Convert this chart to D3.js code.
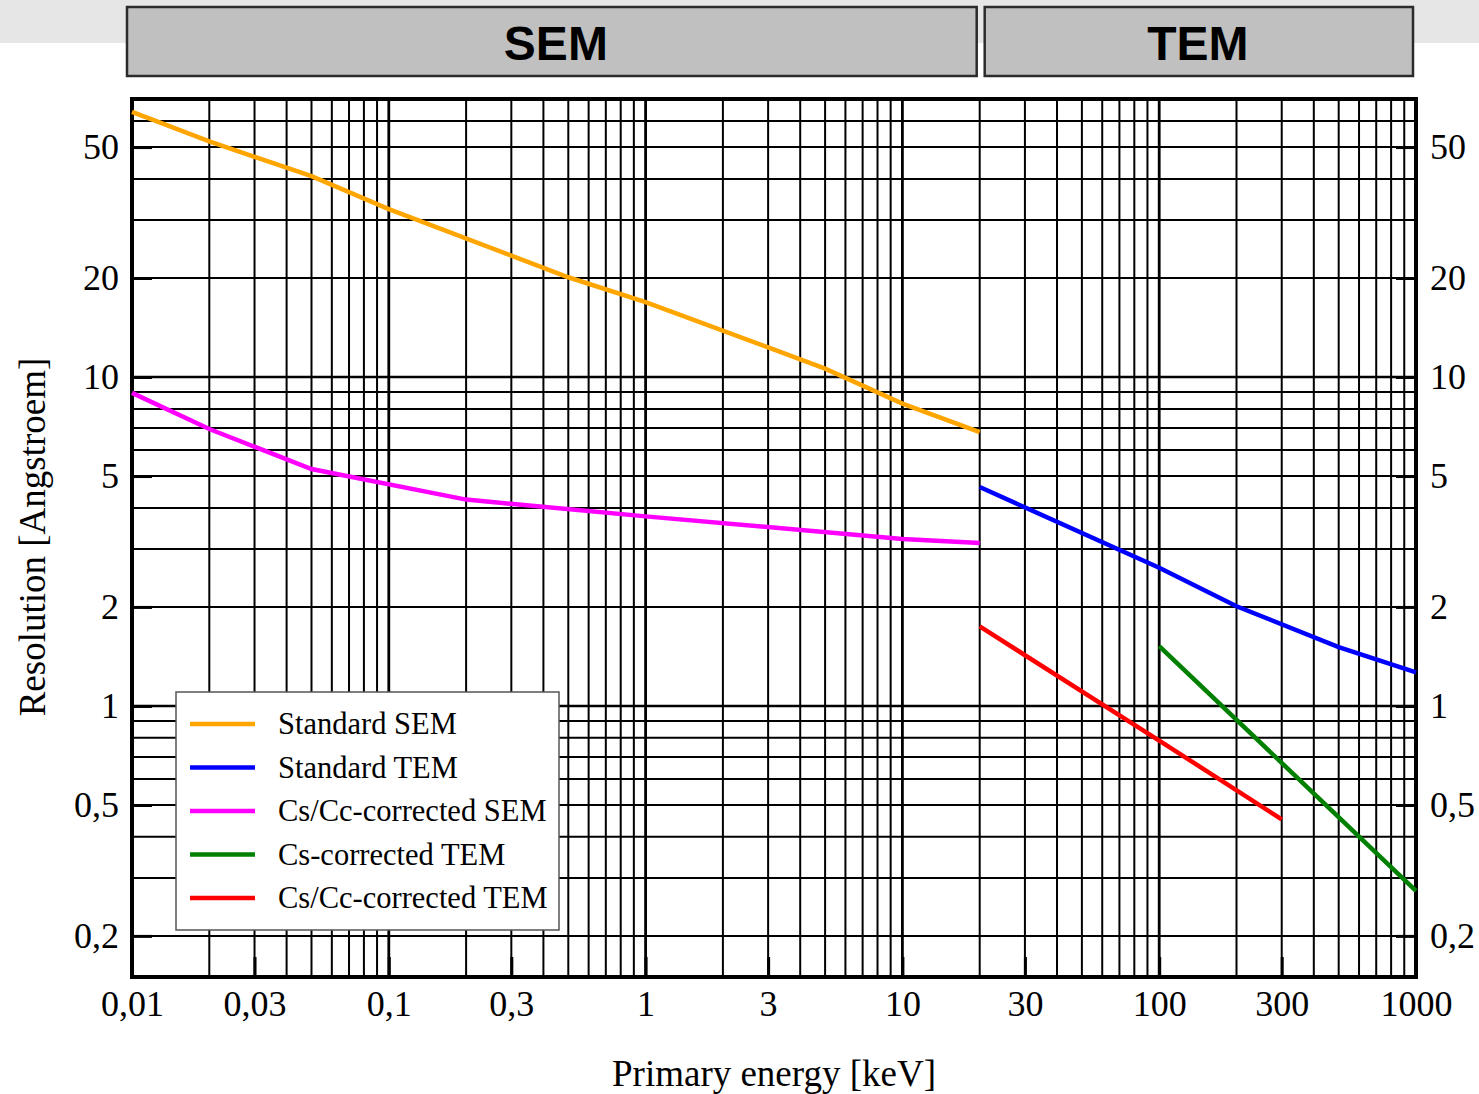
<!DOCTYPE html>
<html>
<head>
<meta charset="utf-8">
<script src="https://cdn.jsdelivr.net/npm/d3@7"></script>
<style>
  body { margin: 0; background: #fff; }
  svg { display: block; }
</style>
</head>
<body>
<svg id="chart" width="1479" height="1094"></svg>
<script>
// tick values and labels
const xTickValues = [0.01, 0.03, 0.1, 0.3, 1, 3, 10, 30, 100, 300, 1000];
const xTickLabels = ['0,01', '0,03', '0,1', '0,3', '1', '3', '10', '30', '100', '300', '1000'];
const yTickValues = [50, 20, 10, 5, 2, 1, 0.5, 0.2];
const yTickLabels = ['50', '20', '10', '5', '2', '1', '0,5', '0,2'];

// panels on top
const panelNames = ['SEM', 'TEM'];
const panelRanges = [[0.01, 20], [20, 1000]];

// series: [energy keV, resolution Angstroem]
const seriesNames = ['Standard SEM', 'Standard TEM', 'Cs/Cc-corrected SEM', 'Cs-corrected TEM', 'Cs/Cc-corrected TEM'];
const seriesColors = ['#ffa500', '#0000ff', '#ff00ff', '#008000', '#ff0000'];
const standardSEM = [[0.01, 64], [0.02, 52], [0.05, 40.8], [0.1, 32.4], [0.5, 20.1], [1, 16.9], [3, 12.3], [5, 10.6], [10, 8.3], [20, 6.8]];
const standardTEM = [[20, 4.63], [100, 2.63], [200, 2.01], [500, 1.51], [1000, 1.265]];
const correctedSEM = [[0.01, 8.95], [0.02, 6.95], [0.05, 5.25], [0.2, 4.24], [1, 3.77], [10, 3.22], [20, 3.13]];
const csCorrectedTEM = [[100, 1.52], [1000, 0.274]];
const csCcCorrectedTEM = [[20, 1.745], [100, 0.785], [300, 0.452]];
const seriesData = [standardSEM, standardTEM, correctedSEM, csCorrectedTEM, csCcCorrectedTEM];

const svg = d3.select('#chart');
const margin = { left: 132, right: 1416, top: 99, bottom: 977 };

const x = d3.scaleLog().domain([0.01, 1000]).range([margin.left, margin.right]);
const y = d3.scaleLog().domain([0.15, 70]).range([margin.bottom, margin.top]);

const serif = '"Liberation Serif", "Times New Roman", serif';

// grey band behind the panel headers
svg.append('rect').attr('x', 0).attr('y', 0).attr('width', 1479).attr('height', 43).attr('fill', '#e6e6e6');

// panel headers
const panels = svg.selectAll('g.panel').data(panelNames).enter().append('g').attr('class', 'panel');
panels.append('rect')
    .attr('x', (d, i) => x(panelRanges[i][0]) + (i === 0 ? -5 : 5))
    .attr('y', 7)
    .attr('width', (d, i) => x(panelRanges[i][1]) - x(panelRanges[i][0]) + (i === 0 ? 2 : -8))
    .attr('height', 69)
    .attr('fill', '#c0c0c0')
    .attr('stroke', '#2b2b2b')
    .attr('stroke-width', 2.5);
panels.append('text')
    .attr('x', (d, i) => (x(panelRanges[i][0]) + x(panelRanges[i][1])) / 2)
    .attr('y', 60)
    .attr('text-anchor', 'middle')
    .attr('font-family', '"Liberation Sans", Arial, sans-serif')
    .attr('font-weight', 'bold')
    .attr('font-size', 48)
    .attr('fill', '#000')
    .text(d => d);

// grid
const isDecade = v => Math.abs(Math.log10(v) - Math.round(Math.log10(v))) < 1e-6;
svg.append('g').selectAll('line').data(x.ticks()).enter().append('line')
    .attr('x1', d => x(d)).attr('x2', d => x(d))
    .attr('y1', margin.top).attr('y2', margin.bottom)
    .attr('stroke', '#000')
    .attr('stroke-width', d => isDecade(d) ? 2.8 : 2);
svg.append('g').selectAll('line').data(y.ticks()).enter().append('line')
    .attr('y1', d => y(d)).attr('y2', d => y(d))
    .attr('x1', margin.left).attr('x2', margin.right)
    .attr('stroke', '#000')
    .attr('stroke-width', d => isDecade(d) ? 2.4 : 2);

// axes with labels and inner major ticks
function styleAxis(g) {
    g.select('.domain').remove();
    g.selectAll('.tick line').attr('stroke', '#000').attr('stroke-width', 3);
    g.selectAll('.tick text').attr('font-family', serif).attr('font-size', 36).attr('fill', '#000');
}
svg.append('g').attr('transform', `translate(0,${margin.bottom})`)
    .call(d3.axisBottom(x).tickValues(xTickValues).tickFormat((d, i) => xTickLabels[i]).tickSize(-20).tickPadding(13))
    .call(styleAxis);
svg.append('g').attr('transform', `translate(${margin.left},0)`)
    .call(d3.axisLeft(y).tickValues(yTickValues).tickFormat((d, i) => yTickLabels[i]).tickSize(-20).tickPadding(13))
    .call(styleAxis);
svg.append('g').attr('transform', `translate(${margin.right},0)`)
    .call(d3.axisRight(y).tickValues(yTickValues).tickFormat((d, i) => yTickLabels[i]).tickSize(-20).tickPadding(14))
    .call(styleAxis);

// frame
svg.append('rect')
    .attr('x', margin.left).attr('y', margin.top)
    .attr('width', margin.right - margin.left).attr('height', margin.bottom - margin.top)
    .attr('fill', 'none').attr('stroke', '#000').attr('stroke-width', 4);

// series lines
const line = d3.line().x(d => x(d[0])).y(d => y(d[1]));
svg.append('g').selectAll('path').data(seriesData).enter().append('path')
    .attr('d', line)
    .attr('fill', 'none')
    .attr('stroke', (d, i) => seriesColors[i])
    .attr('stroke-width', 4.5);

// axis titles
svg.append('text')
    .attr('x', (margin.left + margin.right) / 2).attr('y', 1086)
    .attr('text-anchor', 'middle')
    .attr('font-family', serif).attr('font-size', 37)
    .text('Primary energy [keV]');
svg.append('text')
    .attr('transform', 'translate(45,537) rotate(-90)')
    .attr('text-anchor', 'middle')
    .attr('font-family', serif).attr('font-size', 37)
    .text('Resolution [Angstroem]');

// legend
const legend = svg.append('g').attr('transform', 'translate(176,692)');
legend.append('rect')
    .attr('width', 383).attr('height', 238)
    .attr('fill', '#fff').attr('stroke', '#555').attr('stroke-width', 1.5);
const items = legend.selectAll('g.item').data(seriesNames).enter().append('g')
    .attr('class', 'item')
    .attr('transform', (d, i) => `translate(0,${32 + i * 43.5})`);
items.append('line')
    .attr('x1', 14).attr('x2', 79)
    .attr('stroke', (d, i) => seriesColors[i])
    .attr('stroke-width', 4.5);
items.append('text')
    .attr('x', 102).attr('y', 10)
    .attr('font-family', serif).attr('font-size', 30.5)
    .text(d => d);
</script>
</body>
</html>
